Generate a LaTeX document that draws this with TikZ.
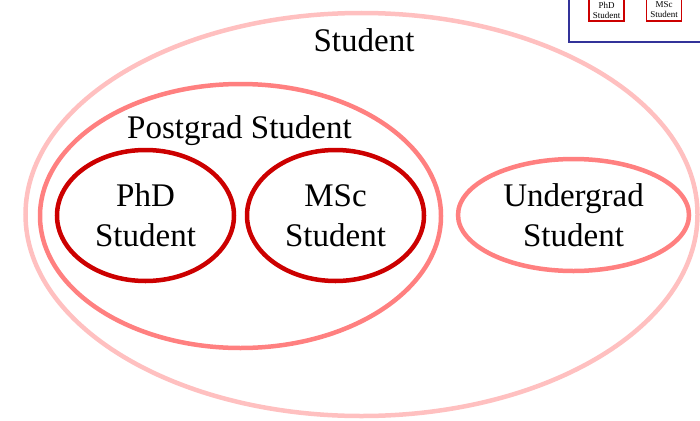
\documentclass[tikz,border=0pt]{standalone}
\usepackage{fontspec}
\setmainfont{Liberation Serif}
\usetikzlibrary{shapes.geometric, positioning}

\definecolor{outerpink}{RGB}{255,192,192}
\definecolor{midpink}{RGB}{255,128,128}
\definecolor{deepred}{RGB}{204,0,0}
\definecolor{insetblue}{RGB}{51,51,153}

\begin{document}
\begin{tikzpicture}[x=1pt, y=-1pt,
    set/.style={draw, ellipse, line width=4.5pt, inner sep=0pt, align=center, font=\fontsize{33}{40}\selectfont},
    tag/.style={anchor=base, font=\fontsize{33}{40}\selectfont},
    mini/.style={draw=deepred, line width=1.5pt, inner sep=2pt, minimum width=35pt, minimum height=22pt, align=center, font=\fontsize{9}{10}\selectfont}
]
    \useasboundingbox (0,0) rectangle (700,420);
    \clip (0,0) rectangle (700,420);

    % Sets (outer to inner)
    \node[set, draw=outerpink, minimum width=672pt, minimum height=403pt] (student) at (361.5,214.5) {};
    \node[set, draw=midpink, minimum width=401pt, minimum height=264pt] (postgrad) at (240.5,216) {};
    \node[set, draw=deepred, minimum width=177pt, minimum height=131pt] (phd) at (145.5,215.5) {PhD\\Student};
    \node[set, draw=deepred, minimum width=177pt, minimum height=131pt] (msc) at (335.5,215.5) {MSc\\Student};
    \node[set, draw=midpink, minimum width=231pt, minimum height=112pt] (undergrad) at (573.5,215) {Undergrad\\Student};

    % Set names
    \node[tag] (studentname) at (364,52) {Student};
    \node[tag] (postgradname) at (239.5,138) {Postgrad Student};

    % Inset (top right corner)
    \draw[insetblue, line width=1.2pt] (569,-20) rectangle (720,42);
    \node[mini] (miniphd) at (606.5,10) {PhD\\Student};
    \node[mini] (minimsc) at (664,10) {MSc\\Student};

\end{tikzpicture}
\end{document}
